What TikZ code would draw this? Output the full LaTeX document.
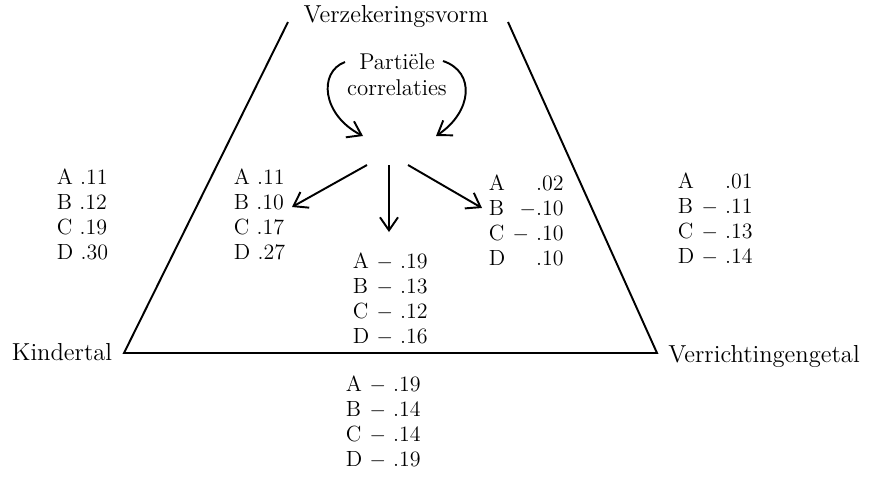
\documentclass[tikz,border=0pt]{standalone}
\usepackage{fontspec}
\usepackage{tikz}
\usetikzlibrary{arrows.meta}
\newcommand{\valfont}{\fontsize{12.5}{14.2}\selectfont}
\newcommand{\lblfont}{\fontsize{14}{14.2}\selectfont}
\newcommand{\valcol}[3]{\node[anchor=north west,inner sep=0pt,font=\valfont,align=left] (#2) at (#1) {#3};}
\newcommand{\corner}[3]{\node[font=\lblfont,inner sep=0pt] (#2) at (#1) {#3};}
\newcommand{\barb}{-{Straight Barb[length=2.6mm,width=3.6mm]}}

\begin{document}
\begin{tikzpicture}[x=0.02cm,y=-0.02cm,line width=1.1pt]
\useasboundingbox (0,0) rectangle (872,481);
% trapezium
\coordinate (tl) at (288,22);
\coordinate (tr) at (508,22);
\coordinate (bl) at (124,353);
\coordinate (br) at (657,353);
\draw (tl) -- (bl) -- (br) -- (tr);

\corner{396,16}{verz}{Verzekeringsvorm}
\corner{62,352}{kind}{Kindertal}
\corner{764,356}{verr}{Verrichtingengetal}
\node[font=\fontsize{13}{14.8}\selectfont,align=center,inner sep=0pt] (part) at (397,75) {Partiële\\correlaties};

% curved arrows
\coordinate (pl) at (345,62);
\coordinate (pr) at (443,61);
\coordinate (ml) at (363,136);
\coordinate (mr) at (436,136);
\draw[\barb] (pl) .. controls (318,72) and (322,115) .. (ml);
\draw[\barb] (pr) .. controls (476,72) and (472,112) .. (mr);

% straight arrows
\coordinate (sl) at (367,165);
\coordinate (sm) at (389,165);
\coordinate (sr) at (408,165);
\coordinate (el) at (292,207);
\coordinate (em) at (389,232);
\coordinate (er) at (482,208);
\draw[\barb] (sl) -- (el);
\draw[\barb] (sm) -- (em);
\draw[\barb] (sr) -- (er);

% columns
\valcol{56,168}{lout}{A .11\\B .12\\C .19\\D .30}
\valcol{233,168}{lin}{A .11\\B .10\\C .17\\D .27}
\valcol{352,250}{mid}{\begin{tabular}{@{}l@{\ }l@{}}A & $-$ .19\\B & $-$ .13\\C & $-$ .12\\D & $-$ .16\end{tabular}}
\valcol{488,172}{rin}{\begin{tabular}{@{}l@{\ }r@{}}A & .02\\B & $-$.10\\C & $-$ .10\\D & .10\end{tabular}}
\valcol{677,170}{rout}{\begin{tabular}{@{}l@{\ }r@{}}A & .01\\B & $-$ .11\\C & $-$ .13\\D & $-$ .14\end{tabular}}
\valcol{345,373}{bot}{\begin{tabular}{@{}l@{\ }l@{}}A & $-$ .19\\B & $-$ .14\\C & $-$ .14\\D & $-$ .19\end{tabular}}
\end{tikzpicture}
\end{document}
